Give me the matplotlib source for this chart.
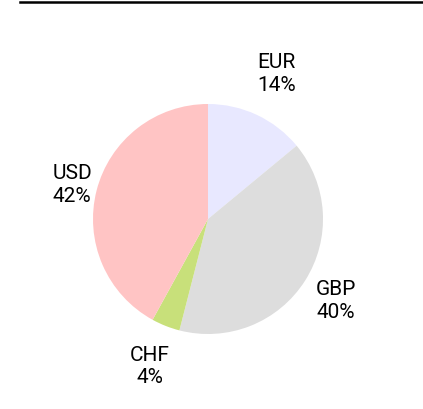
import numpy as np
import matplotlib.pyplot as plt
from matplotlib.lines import Line2D

# data
currencies = ['EUR', 'GBP', 'CHF', 'USD']
shares = [14, 40, 4, 42]
colors = ['#E8E8FF', '#DDDDDD', '#C8E07A', '#FFC4C4']
label_dist = [1.40, 1.32, 1.37, 1.22]

W, H = 423, 410
fig = plt.figure(figsize=(W / 100, H / 100), dpi=100)
ax = fig.add_axes([0, 0, 1, 1])
ax.set_xlim(0, W)
ax.set_ylim(0, H)
ax.set_aspect('equal')
ax.axis('off')

cx, cy, r = 208, H - 220, 115
labels = [c + '\n' + str(s) + '%' for c, s in zip(currencies, shares)]
wedges, texts = ax.pie(shares, colors=colors, startangle=90, counterclock=False,
                       center=(cx, cy), radius=r, labels=labels,
                       wedgeprops=dict(linewidth=0),
                       textprops=dict(fontsize=15, family=['Roboto', 'DejaVu Sans']))
ax.set_xlim(0, W)
ax.set_ylim(0, H)

for w, t, d in zip(wedges, texts, label_dist):
    ang = np.deg2rad((w.theta1 + w.theta2) / 2)
    t.set_position((cx + r * d * np.cos(ang), cy + r * d * np.sin(ang)))
    t.set_ha('center')
    t.set_va('center')
    t.set_linespacing(1.25)

# rule line at top
fig.add_artist(Line2D([20 / W, 1], [1 - 3.3 / H, 1 - 3.3 / H], color='black', linewidth=1.8))

fig.savefig('out.png', dpi=100)
